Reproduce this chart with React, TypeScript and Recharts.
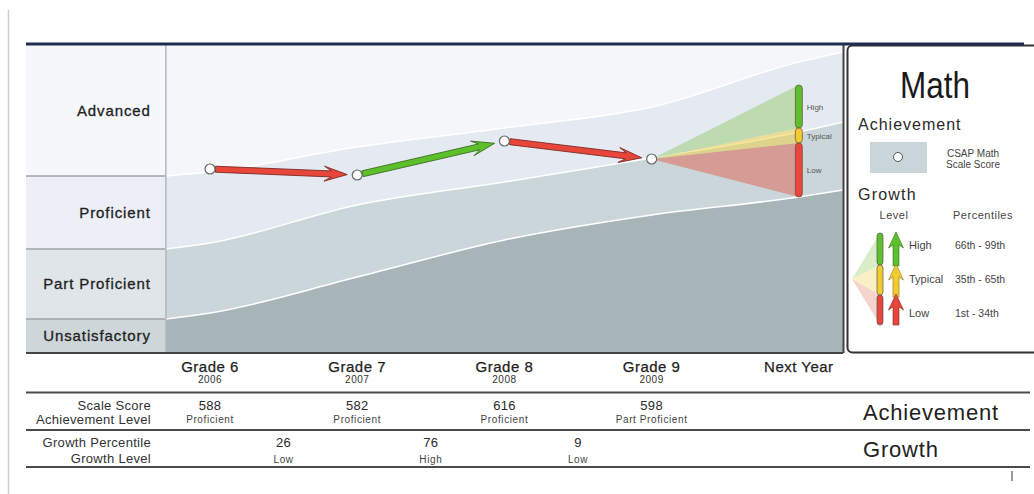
import React from 'react';
import {
  ComposedChart,
  Area,
  Scatter,
  XAxis,
  YAxis,
  CartesianGrid,
  ReferenceArea,
  ReferenceLine,
} from 'recharts';

const grades = ['Grade 6', 'Grade 7', 'Grade 8', 'Grade 9', 'Next Year'];
const years = ['2006', '2007', '2008', '2009', ''];
const scaleScores = [588, 582, 616, 598];
const achievementLevels = ['Proficient', 'Proficient', 'Proficient', 'Part Proficient'];
const growthPercentiles = [26, 76, 9];
const growthLevels = ['Low', 'High', 'Low'];

// cut scores (x = grade index, -0.3 and 4.3 are the plot edges)
const cutX = [-0.3, 0, 1, 2, 3, 4, 4.3];
const advancedCut = [581, 585, 610, 629, 650, 695, 705];
const proficientCut = [508, 514, 552, 575, 599, 625, 635];
const partialCut = [438, 444, 480, 517, 542, 560, 567];

// next year projected score ranges per growth level
const nextYearHigh = [629, 672];
const nextYearTypical = [614, 629];
const nextYearLow = [560, 614];

const bandNames = ['Advanced', 'Proficient', 'Part Proficient', 'Unsatisfactory'];
const scoreDomain = [404, 712];
const xDomain = [-1.25, 4.3];
const labelEdge = -0.3;

const FONT = '"Liberation Sans", Arial, sans-serif';

const levelColor: Record<string, string> = { High: '#5cbf2c', Typical: '#f2cc2e', Low: '#e8463a' };
const levelEdge: Record<string, string> = { High: '#3d6e22', Typical: '#8a7420', Low: '#7e2a22' };

const lastIdx = scaleScores.length - 1;
const chartData = cutX.map((x, i) => {
  const row: any = { x, advanced: advancedCut[i], proficient: proficientCut[i], partial: partialCut[i] };
  if (x === lastIdx) {
    const s = scaleScores[lastIdx];
    row.fanHigh = [s, s];
    row.fanTypical = [s, s];
    row.fanLow = [s, s];
  }
  if (x === lastIdx + 1) {
    row.fanHigh = nextYearHigh;
    row.fanTypical = nextYearTypical;
    row.fanLow = nextYearLow;
  }
  return row;
});

const scoreData = scaleScores.map((s, i) => ({ x: i, y: s }));

const bandEdges = [scoreDomain[1], advancedCut[0], proficientCut[0], partialCut[0], scoreDomain[0]];
const bandFills = ['#f5f7fb', '#eceff6', '#dfe5e8', '#cdd6d9'];

const nextBars = [
  { name: 'High', range: nextYearHigh },
  { name: 'Typical', range: nextYearTypical },
  { name: 'Low', range: nextYearLow },
];

const GrowthArrow = (props: any) => {
  const { x1, y1, x2, y2, color, edge } = props;
  const dx = x2 - x1;
  const dy = y2 - y1;
  const len = Math.hypot(dx, dy) || 1;
  const ux = dx / len;
  const uy = dy / len;
  const nx = -uy;
  const ny = ux;
  const sx = x1 + ux * 5.5;
  const sy = y1 + uy * 5.5;
  const tx = x2 - ux * 10;
  const ty = y2 - uy * 10;
  const bx = tx - ux * 16;
  const by = ty - uy * 16;
  const wx = bx - ux * 7;
  const wy = by - uy * 7;
  const hw = 3;
  const hh = 7.5;
  const pts = [
    [sx + nx * hw, sy + ny * hw],
    [bx + nx * hw, by + ny * hw],
    [wx + nx * hh, wy + ny * hh],
    [tx, ty],
    [wx - nx * hh, wy - ny * hh],
    [bx - nx * hw, by - ny * hw],
    [sx - nx * hw, sy - ny * hw],
  ]
    .map((p) => p.join(','))
    .join(' ');
  return <polygon points={pts} fill={color} stroke={edge} strokeWidth={0.9} strokeLinejoin="round" />;
};

const LevelBar = (props: any) => {
  const { x1, y1, y2, color, name } = props;
  const top = Math.min(y1, y2);
  const h = Math.abs(y2 - y1);
  return (
    <g>
      <rect x={x1 - 3.5} y={top} width={7} height={h} rx={3.5} fill={color} stroke="#6a4a3a" strokeWidth={0.7} />
      <text x={x1 + 8} y={top + h / 2 + 3} fontSize={8} fill="#555">
        {name}
      </text>
    </g>
  );
};

const GradeTick = (props: any) => {
  const { x, y, payload } = props;
  const i = payload.value;
  return (
    <g>
      <text x={x} y={y + 19} textAnchor="middle" fontSize={15} fill="#1e1e1e" stroke="#1e1e1e" strokeWidth={0.25} style={{ letterSpacing: '0.5px' }}>
        {grades[i]}
      </text>
      <text x={x} y={y + 30} textAnchor="middle" fontSize={10} fill="#333" style={{ letterSpacing: '0.5px' }}>
        {years[i]}
      </text>
    </g>
  );
};

const ScoreTick = (props: any) => {
  const { x, y, payload } = props;
  const i = payload.value;
  return (
    <g>
      <text x={x} y={y + 17} textAnchor="middle" fontSize={13} fill="#2a2a2a" style={{ letterSpacing: '0.3px' }}>
        {scaleScores[i]}
      </text>
      <text x={x} y={y + 30} textAnchor="middle" fontSize={10} fill="#444" style={{ letterSpacing: '0.6px' }}>
        {achievementLevels[i]}
      </text>
    </g>
  );
};

const GrowthTick = (props: any) => {
  const { x, y, payload } = props;
  const i = Math.round(payload.value - 0.5);
  return (
    <g>
      <text x={x} y={y + 17} textAnchor="middle" fontSize={13} fill="#2a2a2a" style={{ letterSpacing: '0.3px' }}>
        {growthPercentiles[i]}
      </text>
      <text x={x} y={y + 33} textAnchor="middle" fontSize={10} fill="#444" style={{ letterSpacing: '0.6px' }}>
        {growthLevels[i]}
      </text>
    </g>
  );
};

const upArrow = (cx: number, tip: number, base: number) =>
  [
    [cx, tip],
    [cx + 7.5, tip + 16],
    [cx + 3, tip + 13],
    [cx + 3, base],
    [cx - 3, base],
    [cx - 3, tip + 13],
    [cx - 7.5, tip + 16],
  ]
    .map((p) => p.join(','))
    .join(' ');

const Overlay = () => (
  <svg
    width={1034}
    height={494}
    style={{ position: 'absolute', left: 0, top: 0, pointerEvents: 'none', fontFamily: FONT }}
  >
    <line x1={8.5} y1={10} x2={8.5} y2={494} stroke="#cfcfcf" strokeWidth={1.5} />

    {/* chart frame */}
    <line x1={843.5} y1={45} x2={843.5} y2={353} stroke="#444" strokeWidth={2} />

    {/* key panel */}
    <rect x={847.5} y={45.5} width={230} height={307} rx={5} fill="#fff" stroke="#333" strokeWidth={2} />
    <line x1={26} y1={44} x2={1024} y2={44} stroke="#1f2c50" strokeWidth={3} />

    <text x={935} y={98} textAnchor="middle" fontSize={36} fill="#1a1a1a" textLength={70} lengthAdjust="spacingAndGlyphs">
      Math
    </text>
    <text x={858} y={130} fontSize={16} fill="#2a2a2a" style={{ letterSpacing: '1px' }}>
      Achievement
    </text>
    <rect x={870} y={142} width={57} height={31} fill="#c9d5d8" />
    <circle cx={898} cy={157} r={4.5} fill="#fff" stroke="#555" strokeWidth={1} />
    <text x={973} y={157} textAnchor="middle" fontSize={10} fill="#444">
      CSAP Math
    </text>
    <text x={973} y={168} textAnchor="middle" fontSize={10} fill="#444">
      Scale Score
    </text>
    <text x={858} y={200} fontSize={16} fill="#2a2a2a" style={{ letterSpacing: '1.2px' }}>
      Growth
    </text>
    <text x={894} y={219} textAnchor="middle" fontSize={11} fill="#444" style={{ letterSpacing: '0.5px' }}>
      Level
    </text>
    <text x={983} y={219} textAnchor="middle" fontSize={11} fill="#444" style={{ letterSpacing: '0.5px' }}>
      Percentiles
    </text>

    <polygon points="852,279 880,233 880,265" fill="#d8edc8" />
    <polygon points="852,279 880,265 880,295" fill="#faf0c4" />
    <polygon points="852,279 880,295 880,325" fill="#f6d3cc" />
    <rect x={877} y={233} width={6} height={32} rx={3} fill={levelColor.High} stroke="#555" strokeWidth={0.7} />
    <rect x={877} y={265} width={6} height={30} rx={3} fill={levelColor.Typical} stroke="#555" strokeWidth={0.7} />
    <rect x={877} y={295} width={6} height={30} rx={3} fill={levelColor.Low} stroke="#555" strokeWidth={0.7} />
    <polygon points={upArrow(896, 232, 266)} fill={levelColor.High} stroke={levelEdge.High} strokeWidth={0.6} />
    <polygon points={upArrow(896, 264, 297)} fill={levelColor.Typical} stroke={levelEdge.Typical} strokeWidth={0.6} />
    <polygon points={upArrow(896, 294, 325)} fill={levelColor.Low} stroke={levelEdge.Low} strokeWidth={0.6} />
    <text x={909} y={249} fontSize={11} fill="#444">High</text>
    <text x={909} y={283} fontSize={11} fill="#444">Typical</text>
    <text x={909} y={317} fontSize={11} fill="#444">Low</text>
    <text x={955} y={249} fontSize={10.5} fill="#444">66th - 99th</text>
    <text x={955} y={283} fontSize={10.5} fill="#444">35th - 65th</text>
    <text x={955} y={317} fontSize={10.5} fill="#444">1st - 34th</text>

    {/* table rules and row titles */}
    <line x1={26} y1={392.5} x2={1030} y2={392.5} stroke="#4a4a4a" strokeWidth={2} />
    <line x1={26} y1={430} x2={1030} y2={430} stroke="#4a4a4a" strokeWidth={2} />
    <line x1={26} y1={467} x2={1030} y2={467} stroke="#4a4a4a" strokeWidth={2} />
    <line x1={1012} y1={471} x2={1012} y2={481} stroke="#555" strokeWidth={1.2} />

    <text x={151} y={410} textAnchor="end" fontSize={13} fill="#333" style={{ letterSpacing: '0.3px' }}>
      Scale Score
    </text>
    <text x={151} y={424} textAnchor="end" fontSize={13} fill="#333" style={{ letterSpacing: '0.3px' }}>
      Achievement Level
    </text>
    <text x={151} y={447} textAnchor="end" fontSize={13} fill="#333" style={{ letterSpacing: '0.3px' }}>
      Growth Percentile
    </text>
    <text x={151} y={463} textAnchor="end" fontSize={13} fill="#333" style={{ letterSpacing: '0.3px' }}>
      Growth Level
    </text>
    <text x={863} y={420} fontSize={22} fill="#222" style={{ letterSpacing: '0.8px' }}>
      Achievement
    </text>
    <text x={863} y={457} fontSize={22} fill="#222" style={{ letterSpacing: '0.8px' }}>
      Growth
    </text>
  </svg>
);

export default function App() {
  return (
    <div
      style={{
        position: 'absolute',
        left: 0,
        top: 0,
        width: 1034,
        height: 494,
        background: '#fff',
        overflow: 'hidden',
        fontFamily: FONT,
      }}
    >
      <ComposedChart
        width={1034}
        height={494}
        data={chartData}
        margin={{ top: 45, right: 191, bottom: 27, left: 26 }}
      >
        <CartesianGrid horizontal={false} vertical={false} fill="#f4f6fa" />
        <XAxis
          dataKey="x"
          type="number"
          domain={xDomain}
          allowDataOverflow
          ticks={grades.map((_, i) => i)}
          tick={<GradeTick />}
          tickLine={false}
          tickSize={0}
          tickMargin={0}
          height={40}
          axisLine={{ stroke: '#444', strokeWidth: 2 }}
        />
        <XAxis
          xAxisId="row1"
          dataKey="x"
          type="number"
          domain={xDomain}
          allowDataOverflow
          ticks={scaleScores.map((_, i) => i)}
          tick={<ScoreTick />}
          tickLine={false}
          tickSize={0}
          tickMargin={0}
          height={37}
          axisLine={false}
        />
        <XAxis
          xAxisId="row2"
          dataKey="x"
          type="number"
          domain={xDomain}
          allowDataOverflow
          ticks={growthPercentiles.map((_, i) => i + 0.5)}
          tick={<GrowthTick />}
          tickLine={false}
          tickSize={0}
          tickMargin={0}
          height={37}
          axisLine={false}
        />
        <YAxis type="number" dataKey="y" domain={scoreDomain} allowDataOverflow hide />

        {bandNames.map((name, i) => (
          <ReferenceArea
            key={name}
            x1={xDomain[0]}
            x2={labelEdge}
            y1={bandEdges[i + 1]}
            y2={bandEdges[i]}
            fill={bandFills[i]}
            fillOpacity={1}
            stroke="none"
            ifOverflow="visible"
            label={{
              value: name,
              position: 'insideRight',
              offset: 15,
              fill: '#222',
              stroke: '#222',
              strokeWidth: 0.3,
              fontSize: 15,
              style: { letterSpacing: '0.9px' },
            }}
          />
        ))}
        {bandEdges.slice(1, 4).map((v) => (
          <ReferenceLine
            key={v}
            segment={[
              { x: xDomain[0], y: v },
              { x: labelEdge, y: v },
            ]}
            stroke="#9ea4aa"
            strokeWidth={1.5}
            ifOverflow="visible"
          />
        ))}

        <Area
          type="monotone"
          dataKey="advanced"
          baseValue="dataMin"
          fill="#e5e9f2"
          fillOpacity={1}
          stroke="#fff"
          strokeWidth={1.5}
          dot={false}
          activeDot={false}
          isAnimationActive={false}
        />
        <Area
          type="monotone"
          dataKey="proficient"
          baseValue="dataMin"
          fill="#cad6d9"
          fillOpacity={1}
          stroke="#fff"
          strokeWidth={1.5}
          dot={false}
          activeDot={false}
          isAnimationActive={false}
        />
        <Area
          type="monotone"
          dataKey="partial"
          baseValue="dataMin"
          fill="#a8b5b8"
          fillOpacity={1}
          stroke="#fff"
          strokeWidth={1.5}
          dot={false}
          activeDot={false}
          isAnimationActive={false}
        />

        <ReferenceLine
          segment={[
            { x: labelEdge, y: scoreDomain[0] },
            { x: labelEdge, y: scoreDomain[1] },
          ]}
          stroke="#b4b9bf"
          strokeWidth={1.5}
        />

        <Area type="linear" dataKey="fanLow" fill="#e0604f" fillOpacity={0.5} stroke="none" dot={false} activeDot={false} isAnimationActive={false} />
        <Area type="linear" dataKey="fanTypical" fill="#f0cf3c" fillOpacity={0.5} stroke="none" dot={false} activeDot={false} isAnimationActive={false} />
        <Area type="linear" dataKey="fanHigh" fill="#9fd07a" fillOpacity={0.55} stroke="none" dot={false} activeDot={false} isAnimationActive={false} />

        {nextBars.map((b) => (
          <ReferenceLine
            key={b.name}
            segment={[
              { x: grades.length - 1, y: b.range[0] },
              { x: grades.length - 1, y: b.range[1] },
            ]}
            shape={(p: any) => <LevelBar {...p} color={levelColor[b.name]} name={b.name} />}
          />
        ))}

        {growthLevels.map((lvl, i) => (
          <ReferenceLine
            key={i}
            segment={[
              { x: i, y: scaleScores[i] },
              { x: i + 1, y: scaleScores[i + 1] },
            ]}
            shape={(p: any) => <GrowthArrow {...p} color={levelColor[lvl]} edge={levelEdge[lvl]} />}
          />
        ))}

        <Scatter
          data={scoreData}
          dataKey="y"
          isAnimationActive={false}
          shape={(p: any) => <circle cx={p.cx} cy={p.cy} r={5} fill="#fff" stroke="#666" strokeWidth={1.2} />}
        />
      </ComposedChart>
      <Overlay />
    </div>
  );
}
